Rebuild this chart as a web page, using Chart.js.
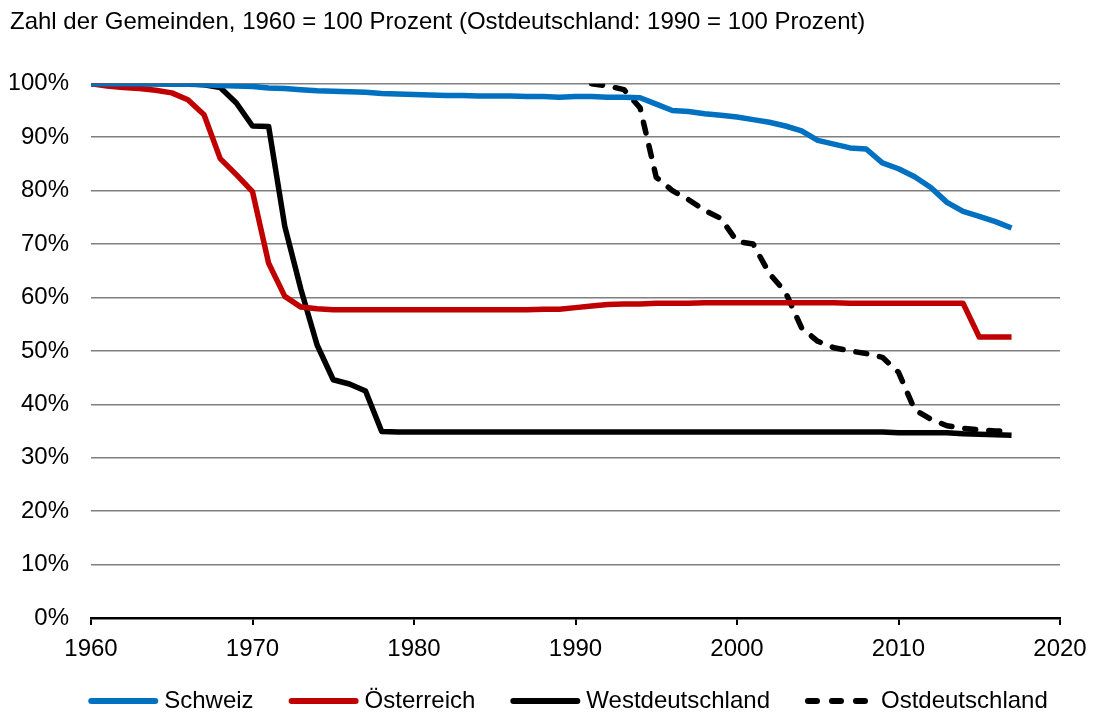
<!DOCTYPE html>
<html>
<head>
<meta charset="utf-8">
<script src="https://cdn.jsdelivr.net/npm/chart.js@4/dist/chart.umd.min.js"></script>
<style>
  html, body { margin: 0; padding: 0; background: #fff; }
  #wrap { width: 1093px; height: 715px; }
</style>
</head>
<body>
<div id="wrap"><canvas id="chart" width="1093" height="715"></canvas></div>
<script>
// Jahre 1960-2017
const years = [];
for (let y = 1960; y <= 2017; y++) years.push(y);

// Index, 1960 = 100
const schweiz = [
  100, 100, 100, 100, 100, 99.9, 99.9, 99.8, 99.7, 99.6,
  99.5, 99.2, 99.1, 98.9, 98.7, 98.6, 98.5, 98.4, 98.2, 98.1,
  98.0, 97.9, 97.8, 97.8, 97.7, 97.7, 97.7, 97.6, 97.6, 97.5,
  97.6, 97.6, 97.5, 97.5, 97.4, 96.2, 95.0, 94.8, 94.4, 94.1,
  93.8, 93.3, 92.8, 92.1, 91.2, 89.4, 88.7, 88.0, 87.8, 85.2,
  84.1, 82.6, 80.6, 77.8, 76.1, 75.2, 74.2, 73.0
];

const oesterreich = [
  100, 99.6, 99.3, 99.1, 98.8, 98.3, 97.0, 94.2, 86.0, 83.0,
  79.8, 66.4, 60.2, 58.2, 57.9, 57.7, 57.7, 57.7, 57.7, 57.7,
  57.7, 57.7, 57.7, 57.7, 57.7, 57.7, 57.7, 57.7, 57.8, 57.8,
  58.1, 58.4, 58.7, 58.8, 58.8, 58.9, 58.9, 58.9, 59.0, 59.0,
  59.0, 59.0, 59.0, 59.0, 59.0, 59.0, 59.0, 58.9, 58.9, 58.9,
  58.9, 58.9, 58.9, 58.9, 58.9, 52.6, 52.6, 52.6
];

const westdeutschland = [
  100, 100, 100, 100, 100, 100, 100, 99.8, 99.3, 96.4,
  92.1, 92.0, 73.3, 61.5, 51.1, 44.6, 43.8, 42.5, 34.9, 34.8,
  34.8, 34.8, 34.8, 34.8, 34.8, 34.8, 34.8, 34.8, 34.8, 34.8,
  34.8, 34.8, 34.8, 34.8, 34.8, 34.8, 34.8, 34.8, 34.8, 34.8,
  34.8, 34.8, 34.8, 34.8, 34.8, 34.8, 34.8, 34.8, 34.8, 34.8,
  34.7, 34.7, 34.7, 34.7, 34.5, 34.4, 34.3, 34.2
];

// Ostdeutschland, 1990 = 100 (Werte ab 1991)
const ostdeutschland = [
  null, null, null, null, null, null, null, null, null, null,
  null, null, null, null, null, null, null, null, null, null,
  null, null, null, null, null, null, null, null, null, null,
  null, 100, 99.6, 98.9, 95.5, 82.5, 80.0, 78.3, 76.3, 74.8,
  70.5, 70.0, 64.5, 61.0, 54.3, 51.8, 50.6, 50.0, 49.5, 48.8,
  46.0, 39.0, 37.2, 36.0, 35.5, 35.2, 35.0, 35.0
];

const yTicks = [0, 10, 20, 30, 40, 50, 60, 70, 80, 90, 100];
const xTicks = [1960, 1970, 1980, 1990, 2000, 2010, 2020];

const FONT = "Arial, 'Liberation Sans', sans-serif";

function toPoints(values) {
  return years.map((yr, i) => ({ x: yr, y: values[i] }));
}

function lineSet(label, values, color, dash) {
  return {
    label: label,
    data: toPoints(values),
    borderColor: color,
    backgroundColor: color,
    borderWidth: 5.5,
    borderDash: dash || [],
    borderCapStyle: dash ? 'round' : 'butt',
    borderJoinStyle: 'round',
    pointRadius: 0,
    tension: 0,
    spanGaps: false
  };
}

// legend row under the x axis, like the original
const bottomLegend = {
  id: 'bottomLegend',
  afterDraw(chart) {
    const ctx = chart.ctx;
    const y = 701;
    const lineLen = 70, textGap = 6, itemGap = 35;
    ctx.save();
    ctx.font = '24px ' + FONT;
    ctx.textBaseline = 'middle';
    const items = chart.data.datasets;
    let total = 0;
    items.forEach((ds, i) => {
      total += lineLen + textGap + ctx.measureText(ds.label).width;
      if (i < items.length - 1) total += itemGap;
    });
    let x = 568 - total / 2;
    items.forEach((ds) => {
      ctx.strokeStyle = ds.borderColor;
      ctx.lineWidth = 6;
      ctx.lineCap = 'round';
      ctx.setLineDash(ds.borderDash.length ? [9, 15] : []);
      ctx.beginPath();
      ctx.moveTo(x + 3, y);
      ctx.lineTo(x + lineLen - 3, y);
      ctx.stroke();
      ctx.setLineDash([]);
      ctx.fillStyle = '#000';
      ctx.fillText(ds.label, x + lineLen + textGap, y);
      x += lineLen + textGap + ctx.measureText(ds.label).width + itemGap;
    });
    ctx.restore();
  }
};

new Chart(document.getElementById('chart'), {
  type: 'line',
  data: {
    datasets: [
      lineSet('Schweiz', schweiz, '#0070C0'),
      lineSet('Österreich', oesterreich, '#C00000'),
      lineSet('Westdeutschland', westdeutschland, '#000000'),
      lineSet('Ostdeutschland', ostdeutschland, '#000000', [11, 13])
    ]
  },
  options: {
    responsive: false,
    animation: false,
    layout: { padding: { left: 10, right: 29, top: 8, bottom: 40 } },
    plugins: {
      title: {
        display: true,
        text: 'Zahl der Gemeinden, 1960 = 100 Prozent (Ostdeutschland: 1990 = 100 Prozent)',
        align: 'start',
        color: '#000',
        font: { family: FONT, size: 24, weight: 'normal' },
        padding: { top: 0, bottom: 47 }
      },
      legend: { display: false },
      tooltip: { enabled: false }
    },
    scales: {
      x: {
        type: 'linear',
        min: 1960,
        max: 2020,
        afterBuildTicks: (s) => { s.ticks = xTicks.map(v => ({ value: v })); },
        afterFit: (s) => { s.height = 57; s.paddingRight = 33; },
        ticks: {
          color: '#000',
          font: { family: FONT, size: 24 },
          padding: 10,
          maxRotation: 0,
          callback: (v) => String(v)
        },
        grid: {
          drawOnChartArea: false,
          drawTicks: true,
          tickLength: 7,
          color: '#000',
          lineWidth: 2
        },
        border: { display: true, color: '#000', width: 2.5 }
      },
      y: {
        min: 0,
        max: 100,
        afterBuildTicks: (s) => { s.ticks = yTicks.map(v => ({ value: v })); },
        afterFit: (s) => { s.width = 81; },
        ticks: {
          color: '#000',
          font: { family: FONT, size: 24 },
          padding: 22,
          callback: (v) => v + '%'
        },
        grid: {
          drawTicks: false,
          color: '#7f7f7f',
          lineWidth: 1.5
        },
        border: { display: false }
      }
    }
  },
  plugins: [bottomLegend]
});
</script>
</body>
</html>
